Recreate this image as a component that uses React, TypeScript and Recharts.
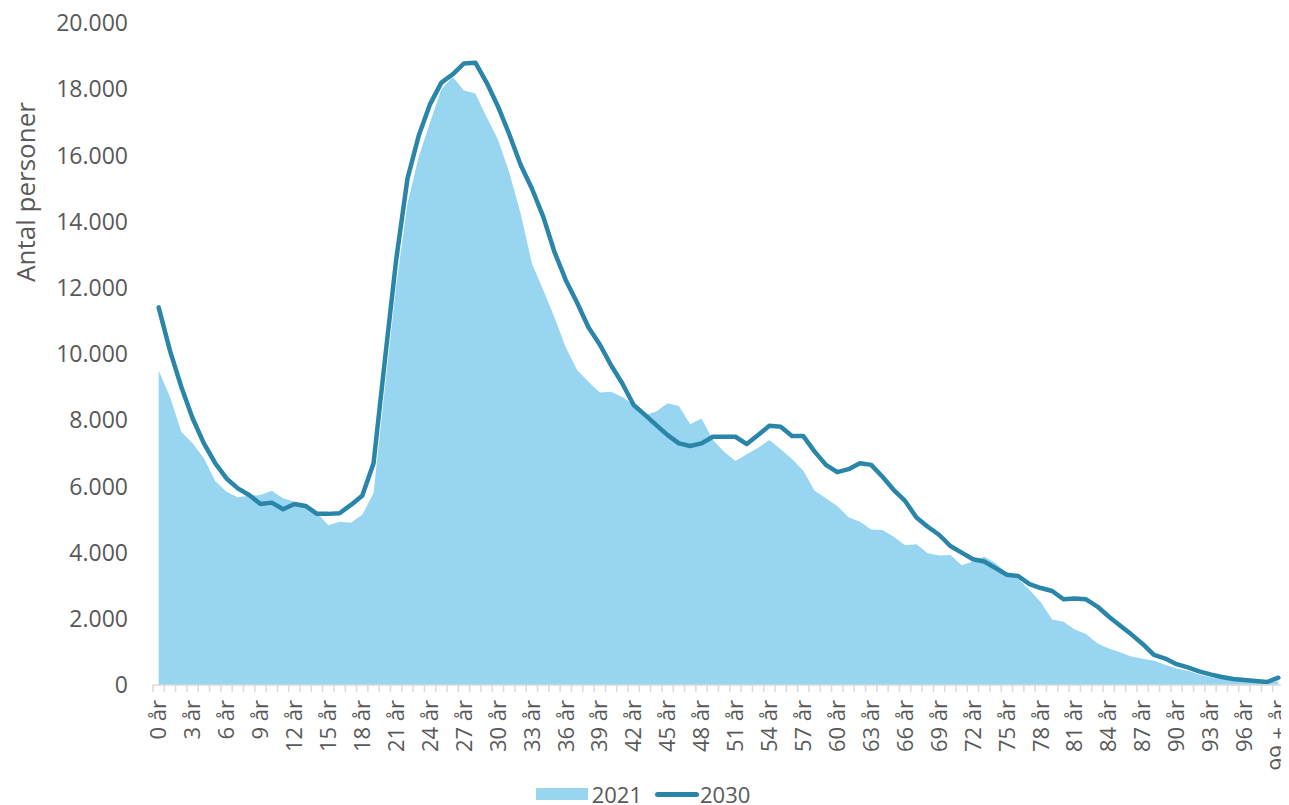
import React from "react";
import {
  ComposedChart,
  Area,
  Line,
  XAxis,
  YAxis,
  Legend,
  Label,
} from "recharts";

// Aldersfordeling 2021 vs. fremskrivning 2030

const AGES: string[] = Array.from({ length: 100 }, (_, i) =>
  i === 99 ? "99 + år" : `${i} år`
);

const VALUES_2021: number[] = [
  9500, 8710, 7650, 7300, 6850, 6160, 5840, 5670, 5720, 5740,
  5870, 5640, 5540, 5400, 5200, 4830, 4930, 4900, 5140, 5800,
  8980, 12050, 14550, 15960, 17000, 18000, 18370, 17960, 17870, 17150,
  16480, 15480, 14250, 12740, 11930, 11100, 10200, 9520, 9160, 8840,
  8860, 8700, 8470, 8150, 8260, 8510, 8430, 7880, 8050, 7400,
  7050, 6770, 6970, 7170, 7400, 7120, 6830, 6470, 5870, 5640,
  5410, 5070, 4930, 4700, 4680, 4480, 4220, 4250, 3980, 3910,
  3930, 3620, 3730, 3880, 3680, 3390, 3200, 2870, 2500, 1980,
  1910, 1680, 1540, 1260, 1100, 990, 860, 790, 730, 610,
  500, 430, 320, 240, 190, 150, 120, 90, 70, 110,
];

const VALUES_2030: number[] = [
  11410, 10100, 9010, 8060, 7300, 6700, 6240, 5940, 5740, 5470,
  5510, 5310, 5470, 5410, 5170, 5170, 5190, 5440, 5720, 6700,
  9800, 12840, 15300, 16600, 17550, 18200, 18450, 18780, 18800, 18200,
  17480, 16640, 15720, 15000, 14150, 13080, 12230, 11550, 10810, 10290,
  9660, 9110, 8460, 8160, 7850, 7550, 7300, 7220, 7300, 7500,
  7500, 7500, 7280, 7550, 7830, 7800, 7520, 7520, 7050, 6650,
  6430, 6520, 6700, 6650, 6290, 5890, 5560, 5060, 4780, 4540,
  4200, 4000, 3800, 3730, 3530, 3330, 3290, 3050, 2930, 2840,
  2590, 2610, 2590, 2370, 2070, 1800, 1530, 1240, 910, 800,
  630, 530, 410, 320, 240, 180, 150, 120, 90, 220,
];

const Y_TICKS: number[] = [0, 2000, 4000, 6000, 8000, 10000, 12000, 14000, 16000, 18000, 20000];

const data = AGES.map((age, i) => ({
  age,
  v2021: VALUES_2021[i],
  v2030: VALUES_2030[i],
}));

const FONT = "'Open Sans', sans-serif";
const TEXT = "#595959";
const AXIS = "#d9d9d9";
const AREA_FILL = "#97d5f0";
const LINE_COL = "#2a86a9";

const WIDTH = 1281;
const HEIGHT = 797;
const Y_W = 145;
const RIGHT = 5;
const STEP = (WIDTH - Y_W - RIGHT) / AGES.length;

function formatDk(n: number): string {
  return String(n).replace(/\B(?=(\d{3})+(?!\d))/g, ".");
}

function AgeTick(props: any) {
  const { x, y, payload, index } = props;
  const i = typeof index === "number" ? index : payload.index;
  const half = STEP / 2;
  return (
    <g>
      <line x1={x - half} x2={x - half} y1={y} y2={y + 7} stroke={AXIS} strokeWidth={1.5} />
      {i === AGES.length - 1 && (
        <line x1={x + half} x2={x + half} y1={y} y2={y + 7} stroke={AXIS} strokeWidth={1.5} />
      )}
      {i % 3 === 0 && (
        <text
          x={x}
          y={y + 15}
          transform={`rotate(-90 ${x} ${y + 15})`}
          textAnchor="end"
          dy="0.35em"
          fontSize={22}
          fontFamily={FONT}
          fill={TEXT}
        >
          {payload.value}
        </text>
      )}
    </g>
  );
}

function LegendBox() {
  return (
    <div
      style={{
        height: 24,
        display: "flex",
        justifyContent: "center",
        alignItems: "center",
        fontFamily: FONT,
        fontSize: 22,
        color: TEXT,
        transform: "translate(-3px, 1px)",
      }}
    >
      <span style={{ display: "inline-block", width: 52, height: 12, background: AREA_FILL, marginRight: 4 }} />
      <span>2021</span>
      <span
        style={{
          display: "inline-block",
          width: 44,
          height: 5,
          borderRadius: 3,
          background: LINE_COL,
          marginLeft: 13,
          marginRight: 1,
        }}
      />
      <span>2030</span>
    </div>
  );
}

export default function App() {
  return (
    <div style={{ width: WIDTH, height: HEIGHT }}>
      <ComposedChart
        width={WIDTH}
        height={HEIGHT}
        data={data}
        margin={{ top: 15, right: RIGHT, bottom: 0, left: 0 }}
      >
        <XAxis
          dataKey="age"
          type="category"
          interval={0}
          height={96}
          padding={{ left: STEP / 2, right: STEP / 2 }}
          axisLine={{ stroke: AXIS, strokeWidth: 1.5 }}
          tickLine={false}
          tickSize={0}
          tickMargin={0}
          tick={<AgeTick />}
        />
        <YAxis
          width={Y_W}
          domain={[0, 20000]}
          ticks={Y_TICKS}
          interval={0}
          axisLine={false}
          tickLine={false}
          tickMargin={19}
          tickFormatter={formatDk}
          tick={{ fontSize: 23, fill: TEXT, fontFamily: FONT }}
        >
          <Label
            content={() => (
              <text
                x={18}
                y={184}
                transform="rotate(-90 18 184)"
                textAnchor="middle"
                dy="0.35em"
                fontSize={26}
                fontFamily={FONT}
                fill={TEXT}
              >
                Antal personer
              </text>
            )}
          />
        </YAxis>
        <Legend verticalAlign="bottom" content={() => <LegendBox />} />
        <Area
          type="linear"
          dataKey="v2021"
          name="2021"
          stroke="none"
          fill={AREA_FILL}
          fillOpacity={1}
          isAnimationActive={false}
        />
        <Line
          type="linear"
          dataKey="v2030"
          name="2030"
          stroke={LINE_COL}
          strokeWidth={4.5}
          strokeLinejoin="round"
          strokeLinecap="round"
          dot={false}
          activeDot={false}
          isAnimationActive={false}
        />
      </ComposedChart>
    </div>
  );
}
